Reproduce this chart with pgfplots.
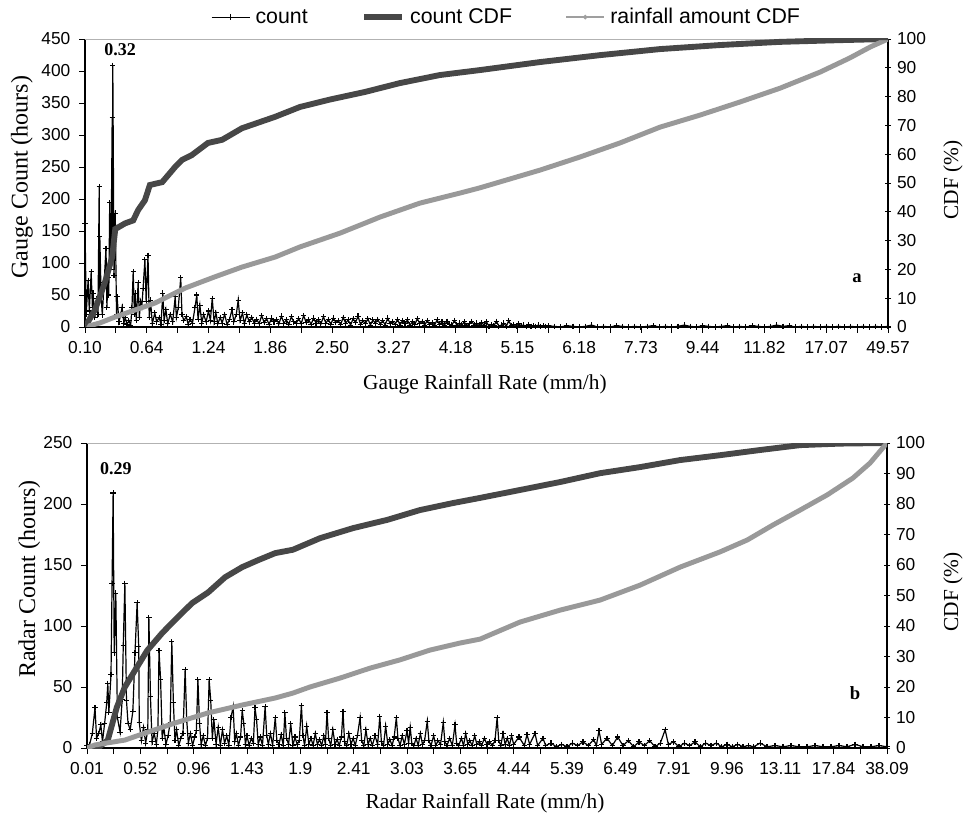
\documentclass[border=0pt]{standalone}
\usepackage{fontspec}
\setmainfont{Liberation Serif}
\setsansfont{Liberation Sans}
\usepackage{pgfplots}
\usepackage{pgfplotstable}
\pgfplotsset{compat=1.18}

\pgfplotstableread{
u c
0.00 162
0.02 20
0.05 73
0.07 25
0.10 86
0.12 30
0.13 53
0.16 15
0.19 45
0.21 20
0.23 219
0.235 40
0.24 141
0.26 50
0.28 19
0.31 70
0.34 123
0.355 30
0.37 78
0.385 50
0.40 194
0.42 90
0.44 327
0.445 150
0.45 409
0.47 80
0.49 178
0.51 20
0.52 47
0.55 8
0.58 20
0.60 31
0.63 6
0.65 15
0.68 4
0.71 10
0.74 3
0.76 30
0.78 86
0.80 20
0.81 53
0.83 10
0.86 69
0.88 15
0.90 40
0.92 31
0.94 60
0.97 105
0.99 40
1.02 112
1.04 15
1.06 42
1.09 5
1.13 22
1.16 8
1.20 15
1.23 4
1.26 53
1.28 10
1.31 27
1.34 5
1.38 20
1.42 8
1.46 47
1.48 15
1.51 30
1.55 77
1.57 20
1.60 10
1.64 16
1.67 4
1.70 12
1.74 6
1.78 30
1.81 50
1.83 12
1.86 34
1.89 6
1.92 20
1.96 8
2.00 25
2.03 10
2.06 45
2.09 8
2.12 22
2.15 5
2.19 15
2.22 6
2.26 20
2.30 4
2.34 12
2.38 27
2.41 8
2.45 20
2.48 42
2.51 10
2.55 22
2.58 5
2.62 19
2.66 8
2.70 15
2.74 6
2.78 12
2.82 5
2.86 18
2.90 7
2.94 13
2.98 4
3.02 14
3.06 8
3.10 12
3.14 5
3.18 17
3.22 6
3.26 11
3.30 4
3.34 16
3.38 8
3.42 6
3.46 13
3.50 5
3.54 18
3.58 7
3.62 12
3.66 4
3.70 14
3.74 6
3.78 11
3.82 5
3.86 16
3.90 6
3.94 12
3.98 4
4.02 14
4.06 7
4.10 10
4.14 4
4.18 15
4.22 6
4.26 11
4.30 3
4.34 13
4.38 7
4.42 17
4.46 4
4.50 10
4.54 5
4.58 13
4.62 3
4.66 11
4.70 6
4.74 12
4.78 4
4.82 10
4.86 3
4.90 14
4.94 5
4.98 9
5.02 4
5.06 12
5.10 3
5.14 10
5.18 5
5.22 11
5.26 3
5.30 8
5.34 4
5.38 13
5.42 5
5.46 9
5.50 3
5.54 10
5.58 4
5.62 7
5.66 3
5.70 11
5.74 4
5.78 8
5.82 3
5.86 9
5.90 4
5.94 3
5.98 10
6.02 3
6.06 6
6.10 3
6.14 8
6.18 2
6.22 5
6.26 9
6.30 3
6.34 6
6.38 2
6.42 7
6.46 3
6.50 8
6.54 1
6.58 4
6.62 2
6.66 9
6.70 1
6.74 3
6.78 6
6.82 1
6.86 10
6.90 2
6.94 4
6.98 1
7.02 5
7.06 2
7.10 3
7.14 1
7.18 4
7.22 1
7.26 2
7.30 1
7.34 3
7.38 1
7.42 2
7.46 1
7.50 2
7.60 1
7.70 0
7.80 2
7.90 1
8.00 0
8.10 1
8.20 3
8.30 0
8.40 1
8.50 0
8.60 2
8.70 1
8.80 0
8.90 1
9.00 0
9.10 1
9.20 2
9.30 0
9.40 1
9.50 0
9.60 1
9.70 3
9.80 1
9.90 0
10.00 2
10.10 1
10.20 0
10.30 1
10.40 2
10.50 0
10.60 1
10.70 0
10.80 2
10.90 1
11.00 0
11.10 1
11.20 3
11.30 1
11.40 2
11.50 0
11.60 1
11.70 0
11.80 1
11.90 0
12.00 1
12.10 0
12.20 1
12.30 0
12.40 1
12.50 0
12.60 1
12.70 0
12.80 1
12.90 0
13.00 1
}\gaugecount

\pgfplotstableread{
u p
0.00 0
0.16 5.9
0.32 15.3
0.44 24.3
0.49 34
0.65 36
0.78 37
0.86 40.6
0.97 44
1.05 49.3
1.25 50.3
1.46 55.6
1.57 58
1.73 59.7
1.99 63.9
2.22 65
2.54 69
3.08 73
3.48 76.4
3.97 79
4.53 81.6
5.10 84.7
5.75 87.5
6.39 89.2
7.37 92
8.34 94.4
9.31 96.5
10.28 97.9
11.25 99
12.22 99.6
13.00 100
}\gaugecdf

\pgfplotstableread{
u p
0.00 0
0.24 1.4
0.49 3.5
1.13 8.3
1.62 13.5
2.10 17.4
2.54 20.8
3.08 24.3
3.48 27.8
4.13 32.6
4.78 38.2
5.42 43
6.07 46.5
6.39 48.3
7.37 54.5
8.01 59
8.66 63.9
9.31 69.4
9.96 73.6
10.60 78.1
11.25 82.9
11.90 88.5
12.38 93.4
12.71 97.2
13.00 100
}\gaugerain

\pgfplotstableread{
u c
0.00 2
0.05 3
0.10 12
0.15 33
0.18 8
0.22 12
0.26 19
0.29 5
0.33 20
0.37 37
0.39 53
0.41 29
0.45 60
0.47 135
0.49 209
0.51 78
0.54 127
0.57 25
0.62 13
0.66 40
0.68 84
0.71 135
0.74 39
0.77 20
0.81 15
0.86 30
0.90 78
0.94 119
0.97 83
0.98 21
1.02 6
1.06 17
1.10 4
1.14 15
1.16 107
1.19 42
1.22 5
1.26 12
1.30 3
1.33 15
1.35 80
1.38 56
1.41 8
1.44 17
1.48 3
1.52 10
1.56 21
1.59 87
1.62 37
1.65 6
1.68 15
1.72 2
1.76 8
1.80 12
1.84 64
1.87 23
1.90 4
1.94 12
1.98 2
2.02 9
2.05 14
2.08 56
2.11 20
2.14 3
2.18 10
2.22 2
2.26 8
2.29 56
2.32 39
2.35 8
2.38 23
2.42 3
2.46 17
2.50 2
2.54 15
2.58 4
2.62 10
2.66 2
2.70 25
2.74 34
2.77 5
2.80 12
2.84 2
2.88 9
2.91 31
2.94 20
2.97 3
3.00 10
3.04 2
3.08 8
3.12 4
3.15 33
3.18 23
3.21 3
3.25 9
3.29 2
3.34 34
3.37 10
3.40 3
3.44 12
3.48 2
3.53 25
3.56 6
3.60 3
3.64 11
3.68 2
3.71 29
3.74 8
3.78 3
3.82 20
3.86 2
3.90 9
3.94 3
3.98 6
4.02 35
4.05 10
4.08 2
4.12 18
4.16 3
4.20 8
4.24 2
4.28 12
4.32 3
4.36 7
4.40 2
4.44 10
4.47 3
4.50 29
4.53 8
4.57 2
4.61 15
4.65 3
4.69 7
4.73 2
4.77 9
4.80 30
4.83 5
4.87 2
4.91 12
4.95 3
4.99 8
5.03 2
5.07 10
5.12 25
5.15 6
5.19 2
5.23 15
5.27 3
5.31 8
5.35 2
5.40 10
5.45 3
5.49 26
5.52 5
5.56 2
5.60 18
5.64 3
5.68 7
5.72 2
5.76 9
5.80 25
5.83 8
5.87 2
5.91 10
5.95 3
6.00 14
6.03 4
6.06 17
6.09 4
6.13 2
6.17 8
6.21 2
6.25 12
6.29 3
6.33 6
6.38 22
6.41 6
6.45 2
6.50 10
6.54 2
6.58 6
6.63 3
6.68 21
6.71 5
6.75 2
6.80 8
6.85 2
6.90 19
6.93 4
6.97 2
7.02 8
7.06 2
7.10 12
7.14 3
7.18 6
7.22 2
7.27 10
7.31 3
7.36 5
7.40 2
7.45 8
7.50 3
7.55 5
7.60 2
7.65 6
7.69 25
7.72 6
7.76 2
7.80 12
7.84 3
7.88 8
7.92 2
7.96 10
8.00 3
8.10 9
8.20 2
8.25 11
8.30 3
8.40 12
8.45 2
8.55 8
8.60 2
8.70 4
8.80 1
8.90 3
9.00 1
9.10 4
9.20 2
9.30 5
9.40 2
9.50 7
9.55 2
9.60 14
9.65 3
9.75 8
9.85 2
9.95 9
10.05 2
10.15 6
10.25 1
10.35 5
10.45 2
10.55 6
10.65 1
10.75 4
10.84 15
10.90 3
11.00 5
11.10 1
11.20 4
11.30 2
11.40 5
11.50 1
11.60 4
11.70 2
11.80 4
11.90 1
12.00 3
12.10 1
12.20 3
12.30 1
12.40 2
12.50 1
12.62 4
12.75 1
12.90 2
13.05 1
13.20 2
13.35 1
13.50 1
13.65 2
13.80 1
13.95 1
14.10 2
14.25 1
14.40 3
14.55 1
14.70 1
14.85 2
15.00 1
}\radarcount

\pgfplotstableread{
u p
0.00 0
0.24 0.5
0.39 2.6
0.56 13.4
0.71 20
0.94 26.6
1.13 32
1.41 37.7
1.65 42
1.97 47.5
2.27 51
2.59 56
2.91 59.3
3.21 61.6
3.53 63.9
3.86 65
4.37 68.8
4.99 72.1
5.63 74.8
6.24 78
6.86 80.3
7.37 82
8.12 84.6
8.87 87.2
9.62 90.1
10.37 92.1
11.12 94.4
11.87 96
12.62 97.7
13.37 99.3
14.12 99.8
15.00 100
}\radarcdf

\pgfplotstableread{
u p
0.00 0
0.15 1
0.71 2.6
1.14 5.2
1.65 8.2
2.27 11.5
2.91 14.1
3.53 16.4
3.86 18
4.18 20
4.74 22.9
5.31 26.2
5.87 28.9
6.43 32.1
6.99 34.4
7.37 35.7
8.12 41.3
8.87 45.2
9.62 48.5
10.37 53.4
11.12 59.3
11.87 64.3
12.38 68.2
12.86 73.1
13.37 78
13.88 83
14.36 88.5
14.68 93.4
15.00 100
}\radarrain

\pgfplotsset{
  every axis/.append style={
    scale only axis,
    tick style={black, line width=0.6pt},
    major tick length=4.5pt,
    minor tick length=4.5pt,
    /pgf/number format/assume math mode=true,
    tick label style={font=\sffamily\fontsize{13}{15}\selectfont},
    label style={font=\fontsize{16}{18}\selectfont},
    axis line style={black, line width=0.8pt},
  },
  countax/.style={
    axis x line*=bottom, axis y line*=left,
    tick align=outside,
    xmin=0, ymin=0,
    xticklabel style={yshift=-3pt},
    yticklabel style={xshift=-3pt},
    extra y tick style={grid=major, major grid style={gray!60, line width=0.6pt}},
    extra y tick labels={},
  },
  cdfax/.style={
    axis x line=none, axis y line*=right,
    tick align=center,
    xmin=0, ymin=0, ymax=100,
    ytick={0,10,...,100},
    yticklabel style={xshift=1pt},
  },
  cntline/.style={black, line width=0.9pt, line join=miter, mark=+, mark size=2pt, mark options={line width=0.8pt}},
  cdfline/.style={black!72, line width=4.4pt},
  rainline/.style={gray!80, line width=3.7pt},
  legend image code/.code={\draw[mark repeat=2,mark phase=2,#1] plot coordinates {(0cm,0cm) (0.5cm,0cm) (1cm,0cm)};},
}

\begin{document}
\begin{tikzpicture}
\useasboundingbox (0,0) rectangle (723pt,-612pt);

% ---------- top panel (a) ----------
\begin{axis}[countax,
  at={(63.75pt,-245.25pt)}, anchor=south west,
  width=602.25pt, height=216pt,
  xmax=13, ymax=450,
  ytick={0,50,...,450},
  extra y ticks={450},
  xtick={0,1,...,13},
  xticklabels={0.10,0.64,1.24,1.86,2.50,3.27,4.18,5.15,6.18,7.73,9.44,11.82,17.07,49.57},
  minor xtick={0.5,1.5,...,12.5},
  xlabel={Gauge Rainfall Rate (mm/h)},
  ylabel={Gauge Count (hours)},
  xlabel style={at={(axis description cs:0.498,-0.2)}, anchor=center},
  ylabel style={at={(axis description cs:-0.0785,0.52)}, anchor=center, font=\fontsize{18}{20}\selectfont},
]
\addplot[cntline] table[x=u, y=c] {\gaugecount};
\node[font=\bfseries\fontsize{13.5}{15}\selectfont] at (axis cs:0.57,433) {0.32};
\node[font=\bfseries\fontsize{14}{16}\selectfont] at (axis cs:12.5,77) {a};
\end{axis}

\begin{axis}[cdfax,
  at={(63.75pt,-245.25pt)}, anchor=south west,
  width=602.25pt, height=216pt,
  xmax=13,
  ylabel={CDF (\%)},
  ylabel style={at={(axis description cs:1.081,0.51)}, anchor=center},
  legend style={at={(axis description cs:0.5255,1.076)}, anchor=center,
    draw=none, fill=none, legend columns=-1,
    font=\sffamily\fontsize{16}{18}\selectfont,
    /tikz/every odd column/.append style={column sep=2pt},
    /tikz/every even column/.append style={column sep=38pt}},
]
\addlegendimage{black, line width=0.8pt, mark=+, mark size=2.5pt}
\addlegendentry{count}
\addplot[cdfline] table[x=u, y=p] {\gaugecdf};
\addlegendentry{count CDF}
\addplot[rainline, forget plot] table[x=u, y=p] {\gaugerain};
\addplot[black!72, line width=1.5pt, forget plot] table[x=u, y=p] {\gaugecdf};
\addlegendimage{gray!75, line width=1.2pt, mark=*, mark size=1pt}
\addlegendentry{rainfall amount CDF}
\end{axis}

% ---------- bottom panel (b) ----------
\begin{axis}[countax,
  at={(65.25pt,-561pt)}, anchor=south west,
  width=600pt, height=228.75pt,
  xmax=15, ymax=250,
  ytick={0,50,...,250},
  extra y ticks={250},
  xtick={0,1,...,15},
  xticklabels={0.01,0.52,0.96,1.43,1.9,2.41,3.03,3.65,4.44,5.39,6.49,7.91,9.96,13.11,17.84,38.09},
  minor xtick={0.5,1.5,...,14.5},
  xlabel={Radar Rainfall Rate (mm/h)},
  ylabel={Radar Count (hours)},
  xlabel style={at={(axis description cs:0.4975,-0.18)}, anchor=center},
  ylabel style={at={(axis description cs:-0.072,0.554)}, anchor=center, font=\fontsize{18}{20}\selectfont},
]
\addplot[cntline] table[x=u, y=c] {\radarcount};
\node[font=\bfseries\fontsize{13.5}{15}\selectfont] at (axis cs:0.54,229) {0.29};
\node[font=\bfseries\fontsize{14}{16}\selectfont] at (axis cs:14.4,45) {b};
\end{axis}

\begin{axis}[cdfax,
  at={(65.25pt,-561pt)}, anchor=south west,
  width=600pt, height=228.75pt,
  xmax=15,
  ylabel={CDF (\%)},
  ylabel style={at={(axis description cs:1.0825,0.511)}, anchor=center},
]
\addplot[cdfline] table[x=u, y=p] {\radarcdf};
\addplot[rainline] table[x=u, y=p] {\radarrain};
\end{axis}
\end{tikzpicture}
\end{document}
